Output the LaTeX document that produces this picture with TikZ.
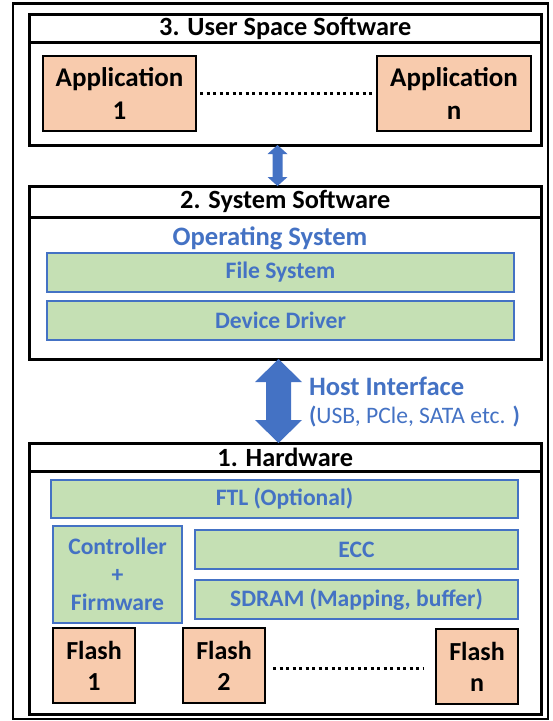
\documentclass[tikz,border=0pt]{standalone}
\usepackage{fontspec}
\setmainfont{Carlito}
\usetikzlibrary{calc}
\definecolor{oblue}{HTML}{4472C4}
\definecolor{ogreen}{HTML}{C5E0B4}
\definecolor{oorange}{HTML}{F8CBAD}
\newcommand\bx[7]{\node[#1,anchor=north west,minimum width={(#5)-(#3)},minimum height={(#6)-(#4)}] (#2) at (#3,#4) {#7};}
\newcommand\dblarrow[5]{\fill[oblue] let \p1=(#1), \p2=(#2) in
  (\x1,\y1) -- (\x1+#4pt,\y1-#5pt) -- (\x1+#3pt,\y1-#5pt) -- (\x1+#3pt,\y2+#5pt) -- (\x1+#4pt,\y2+#5pt)
  -- (\x1,\y2) -- (\x1-#4pt,\y2+#5pt) -- (\x1-#3pt,\y2+#5pt) -- (\x1-#3pt,\y1-#5pt) -- (\x1-#4pt,\y1-#5pt) -- cycle;}
\begin{document}
\begin{tikzpicture}[x=1pt,y=-1pt,
  every node/.style={inner sep=0pt,outer sep=0pt},
  frame/.style={draw=black,line width=2.5pt},
  secbox/.style={draw=black,line width=3pt,fill=white},
  sectitle/.style={secbox,font=\bfseries\fontsize{26.3}{30}\selectfont},
  greenbox/.style={draw=oblue,fill=ogreen,line width=1.2pt,text=oblue,font=\bfseries\fontsize{23.6}{28}\selectfont,align=center},
  orangebox/.style={draw=black,fill=oorange,line width=1.2pt,align=center},
  bluetext/.style={text=oblue,font=\bfseries\fontsize{26.6}{30}\selectfont},
  dotline/.style={line width=3pt,dash pattern=on 3pt off 3.5pt}
]
\useasboundingbox (0,0) rectangle (553,721);
\draw[frame] (13,3.5) rectangle (548,719);
% Section 3
\bx{sectitle}{h3}{29.5}{14.5}{541}{42}{3. User Space Software}
\bx{secbox}{b3}{29.5}{42}{541}{145}{}
\bx{orangebox,font=\bfseries\fontsize{27}{33}\selectfont}{app1}{43}{56}{196}{131}{Application\\1}
\bx{orangebox,font=\bfseries\fontsize{27}{33}\selectfont}{appn}{377}{56}{531}{131}{Application\\n}
\draw[dotline] ($(app1.east)+(4,0)$) -- ($(appn.west)+(-5,0)$);
% Section 2
\bx{sectitle}{h2}{29.5}{186}{541}{217}{2. System Software}
\bx{secbox}{b2}{29.5}{217}{541}{359}{}
\node[bluetext] (os) at (270,238) {Operating System};
\bx{greenbox}{fs}{47}{253}{514}{292}{File System}
\bx{greenbox}{dd}{47}{301}{514}{340}{Device Driver}
% Section 1
\bx{sectitle}{h1}{29.5}{443}{541}{471}{1. Hardware}
\bx{secbox}{b1}{29.5}{471}{541}{714}{}
\bx{greenbox}{ftl}{51}{480}{518}{518}{FTL (Optional)}
\bx{greenbox,font=\bfseries\fontsize{23.6}{28}\selectfont}{ctl}{53}{526}{182}{623}{Controller\\+\\Firmware}
\bx{greenbox}{ecc}{195}{530}{518}{569}{ECC}
\bx{greenbox}{sdram}{195}{580}{518}{619}{SDRAM (Mapping, buffer)}
\bx{orangebox,font=\bfseries\fontsize{26}{31}\selectfont}{f1}{53}{628}{135}{703}{Flash\\1}
\bx{orangebox,font=\bfseries\fontsize{26}{31}\selectfont}{f2}{183}{628}{265}{703}{Flash\\2}
\bx{orangebox,font=\bfseries\fontsize{26}{31}\selectfont}{fn}{436}{629}{518}{704}{Flash\\n}
\draw[dotline] ($(f2.east)+(8,2.5)$) -- ($(fn.west |- f2.east)+(-13,2.5)$);
% Arrows
\dblarrow{b3.south -| 277.5,0}{h2.north -| 277.5,0}{5}{10}{9}
\dblarrow{b2.south -| 278.5,0}{h1.north -| 278.5,0}{12.5}{23.5}{23}
\node[bluetext,anchor=west] (hi) at (309,386) {Host Interface};
\node[text=oblue,anchor=west,font=\fontsize{23.6}{28}\selectfont] (hil) at (309,417) {\textbf{(}USB, PCle, SATA etc. \textbf{)}};
\end{tikzpicture}
\end{document}
